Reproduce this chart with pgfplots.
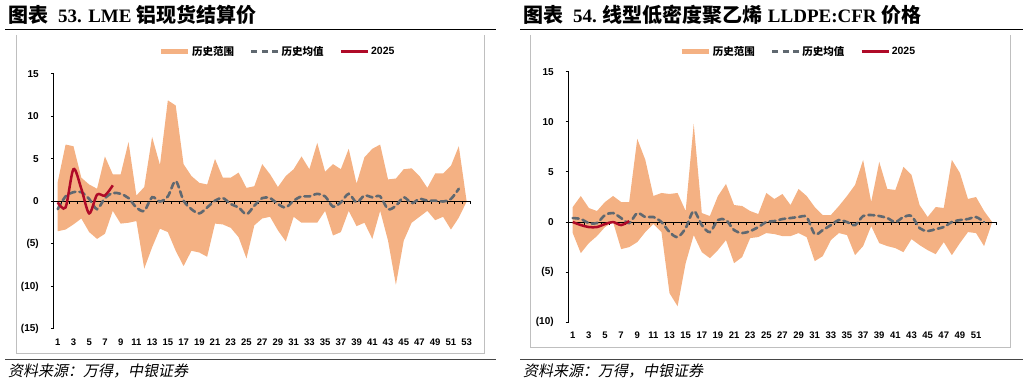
\documentclass[border=0pt]{standalone}
\usepackage{pgfplots}
\pgfplotsset{compat=1.18}
\usepgfplotslibrary{fillbetween}
\usepackage{pgfplotstable}
\usepackage{fontspec}
\setmainfont{Liberation Sans}
\newfontfamily\cjk{Noto Sans CJK SC}
\newfontfamily\cjkit[FakeSlant=0.2]{Noto Sans CJK SC}
\newfontfamily\serif{Liberation Serif}
\definecolor{areaor}{RGB}{244,177,131}
\definecolor{meangray}{RGB}{95,104,112}
\definecolor{red25}{RGB}{175,10,40}
\definecolor{framegray}{RGB}{191,191,191}
\definecolor{rulegray}{RGB}{70,70,70}

\pgfplotstableread{
w hi lo mean
1 2.3 -3.5 -0.9
2 6.7 -3.3 0.6
3 6.5 -2.7 1.1
4 2.8 -2.0 1.1
5 2.0 -3.6 0.3
6 1.5 -4.4 -0.9
7 5.3 -3.8 0.4
8 3.2 -1.1 1.0
9 3.2 -2.6 0.9
10 7.0 -2.5 0.4
11 0.7 -2.3 -0.7
12 1.7 -7.9 -1.1
13 7.6 -5.4 0.5
14 4.3 -3.2 0.0
15 11.9 -3.6 0.6
16 11.3 -5.8 2.4
17 4.4 -7.6 0.1
18 3.0 -5.8 -0.9
19 2.2 -6.0 -1.4
20 2.0 -6.5 -0.7
21 5.0 -2.6 0.1
22 2.8 -2.7 0.4
23 2.8 -3.1 -0.3
24 3.4 -4.2 -0.7
25 1.6 -6.7 -1.5
26 1.8 -2.8 -0.5
27 4.4 -2.0 0.4
28 3.2 -1.8 0.4
29 1.7 -3.4 -0.3
30 3.0 -4.7 -0.7
31 3.8 -1.8 0.1
32 5.3 -2.5 0.6
33 3.8 -2.5 0.6
34 6.9 -2.5 0.9
35 3.5 -1.1 0.6
36 4.4 -4.0 -0.6
37 3.8 -3.6 -0.1
38 6.2 -1.1 0.9
39 2.1 -2.9 -0.1
40 5.2 -2.5 0.7
41 6.2 -4.4 0.5
42 6.7 -1.1 0.6
43 2.6 -4.6 -0.9
44 2.7 -9.8 -0.5
45 3.8 -4.6 0.5
46 3.9 -2.5 -0.2
47 3.0 -1.8 0.3
48 1.6 -1.1 0.1
49 3.3 -2.2 0.1
50 3.3 -1.8 0.0
51 4.2 -3.3 0.3
52 6.5 -1.9 1.5
53 0.0 0.0 nan
}\lme

\pgfplotstableread{
w v
1 -0.1
2 -0.7
3 3.8
4 1.5
5 -1.4
6 0.8
7 0.7
8 1.9
}\lmered

\pgfplotstableread{
w hi lo mean
1 1.5 -1.1 0.4
2 2.6 -3.1 0.3
3 1.4 -2.1 -0.1
4 1.1 -1.4 -0.1
5 2.0 -0.5 0.7
6 2.6 0.0 0.9
7 2.0 -2.7 0.4
8 2.0 -2.5 -0.1
9 8.3 -2.0 0.9
10 6.2 -1.0 0.5
11 2.6 -0.2 0.5
12 2.9 -1.0 0.0
13 2.8 -7.1 -1.0
14 2.9 -8.4 -1.5
15 1.1 -4.1 -0.6
16 9.8 -1.3 1.1
17 0.9 -3.0 -0.3
18 0.6 -3.6 -1.0
19 2.6 -2.8 0.2
20 3.8 -1.8 0.2
21 1.7 -4.1 -0.8
22 1.6 -3.5 -1.1
23 1.1 -1.6 -0.9
24 0.8 -1.5 -0.5
25 2.9 -1.1 0.0
26 2.3 -1.2 0.1
27 2.8 -1.4 0.3
28 1.7 -1.4 0.4
29 3.3 -1.1 0.5
30 2.6 -1.5 0.5
31 1.5 -3.9 -1.2
32 0.7 -3.4 -0.8
33 0.7 -1.8 -0.3
34 1.6 -1.1 0.2
35 2.6 -1.3 0.0
36 3.7 -3.3 -0.3
37 6.2 -2.4 0.6
38 2.0 -0.4 0.7
39 6.0 -2.1 0.6
40 3.3 -2.4 0.4
41 3.2 -2.6 0.0
42 5.5 -3.0 0.5
43 4.7 -1.7 0.6
44 1.7 -2.3 -0.6
45 0.5 -2.8 -0.9
46 1.5 -3.2 -0.7
47 1.4 -2.0 -0.5
48 6.2 -3.3 0.0
49 4.9 -2.1 0.2
50 2.3 -1.0 0.3
51 2.5 -1.1 0.5
52 1.1 -2.4 0.0
53 0.0 0.0 nan
}\lldpe

\pgfplotstableread{
w v
1 0.0
2 -0.3
3 -0.5
4 -0.5
5 -0.2
6 0.0
7 -0.3
8 0.1
}\lldpered

\pgfplotsset{
  panel/.style={
    scale only axis,
    xmin=0.5, xmax=53.5,
    axis lines*=left,
    x axis line style={draw=none},
    y axis line style={line width=1.1pt},
    tick align=outside,
    major tick length=3pt,
    ytick style={black, line width=1pt},
    xtick style={draw=none},
    /pgf/number format/assume math mode=true,
    xticklabel style={font=\bfseries\fontsize{9.5}{11}\selectfont, yshift=-3pt},
    yticklabel style={font=\bfseries\fontsize{10}{12}\selectfont, xshift=-8.5pt},
    clip=false,
    legend columns=3,
    legend cell align=left,
    legend image code/.code={\draw[##1] (0pt,0pt)--(27pt,0pt);},
    legend style={draw=none, fill=none, inner sep=0pt, anchor=center,
      font=\bfseries\fontsize{10.5}{12}\selectfont,
      /tikz/every even column/.append style={column sep=14pt}},
  },
  meanline/.style={meangray, line width=2.6pt, dash pattern=on 6pt off 4pt, line cap=round, smooth, tension=0.5, no marks},
  redline/.style={red25, line width=2.5pt, smooth, tension=0.5, no marks},
}
\newcommand{\cjkt}[1]{{\cjk\bfseries\fontsize{20}{22}\selectfont #1}}
\newcommand{\sert}[1]{{\serif\bfseries\fontsize{19}{22}\selectfont #1}}

\begin{document}
\begin{tikzpicture}
\path (0,0) rectangle (1028pt,387pt);

% ---------- left panel decorations ----------
\node[anchor=base west, inner sep=0pt] at (8pt,364pt)
  {\cjkt{图表}\hspace{10pt}\sert{53. LME}\hspace{5pt}\cjkt{铝现货结算价}};
\draw[black, line width=1pt] (5pt,357pt) -- (496pt,357pt);
\draw[framegray, line width=0.9pt] (16.7pt,352pt) -- (16.7pt,34pt) -- (484pt,34pt) -- (484pt,352pt);
\draw[rulegray, line width=1.5pt] (5pt,27.6pt) -- (496pt,27.6pt);
\node[anchor=base west, inner sep=0pt, font=\fontsize{15}{18}\selectfont] at (8pt,10pt) {\cjkit 资料来源：万得，中银证券};

% ---------- right panel decorations ----------
\node[anchor=base west, inner sep=0pt] at (523pt,364pt)
  {\cjkt{图表}\hspace{10pt}\sert{54.}\hspace{6pt}\cjkt{线型低密度聚乙烯}\hspace{5pt}\sert{LLDPE:CFR}\hspace{5pt}\cjkt{价格}};
\draw[black, line width=1pt] (520pt,357pt) -- (1023pt,357pt);
\draw[framegray, line width=0.9pt] (530pt,352pt) -- (530pt,39.7pt) -- (1010.7pt,39.7pt) -- (1010.7pt,352pt);
\draw[rulegray, line width=1.5pt] (520pt,27.6pt) -- (1023pt,27.6pt);
\node[anchor=base west, inner sep=0pt, font=\fontsize{15}{18}\selectfont] at (523pt,10pt) {\cjkit 资料来源：万得，中银证券};

% ---------- left axis ----------
\begin{axis}[panel,
  at={(53.8pt,58pt)}, anchor=south west,
  width=416.8pt, height=255pt,
  ymin=-15, ymax=15,
  ytick={-15,-10,-5,0,5,10,15},
  yticklabels={(15),(10),(5),0,5,10,15},
  xtick={1,3,...,53},
  legend style={at={(0.537,1.0875)}},
]
\addplot[name path=hiA, draw=none, forget plot] table[x=w, y=hi] {\lme};
\addplot[name path=loA, draw=none, forget plot] table[x=w, y=lo] {\lme};
\addplot[areaor, forget plot] fill between[of=hiA and loA];
\draw[black, line width=1.1pt] (axis cs:0.5,0) -- (axis cs:53.5,0);
\pgfplotsinvokeforeach{0,...,53}{\draw[black, line width=0.9pt] (axis cs:#1.5,0) -- ++(0pt,-3pt);}
\addplot[meanline, forget plot] table[x=w, y=mean] {\lme};
\addplot[redline, forget plot] table[x=w, y=v] {\lmered};
\addlegendimage{areaor, line width=4.5pt}
\addlegendentry{\cjk\bfseries 历史范围}
\addlegendimage{meangray, line width=2.4pt, dash pattern=on 6pt off 4.5pt}
\addlegendentry{\cjk\bfseries 历史均值}
\addlegendimage{red25, line width=2.5pt}
\addlegendentry{2025}
\end{axis}

% ---------- right axis ----------
\begin{axis}[panel,
  at={(568.7pt,64.7pt)}, anchor=south west,
  width=427.5pt, height=250.6pt,
  ymin=-10, ymax=15,
  ytick={-10,-5,0,5,10,15},
  yticklabels={(10),(5),0,5,10,15},
  xtick={1,3,...,51},
  legend style={at={(0.537,1.08)}},
]
\addplot[name path=hiB, draw=none, forget plot] table[x=w, y=hi] {\lldpe};
\addplot[name path=loB, draw=none, forget plot] table[x=w, y=lo] {\lldpe};
\addplot[areaor, forget plot] fill between[of=hiB and loB];
\draw[black, line width=1.1pt] (axis cs:0.5,0) -- (axis cs:53.5,0);
\pgfplotsinvokeforeach{0,...,53}{\draw[black, line width=0.9pt] (axis cs:#1.5,0) -- ++(0pt,-3pt);}
\addplot[meanline, forget plot] table[x=w, y=mean] {\lldpe};
\addplot[redline, forget plot] table[x=w, y=v] {\lldpered};
\addlegendimage{areaor, line width=4.5pt}
\addlegendentry{\cjk\bfseries 历史范围}
\addlegendimage{meangray, line width=2.4pt, dash pattern=on 6pt off 4.5pt}
\addlegendentry{\cjk\bfseries 历史均值}
\addlegendimage{red25, line width=2.5pt}
\addlegendentry{2025}
\end{axis}
\end{tikzpicture}
\end{document}
